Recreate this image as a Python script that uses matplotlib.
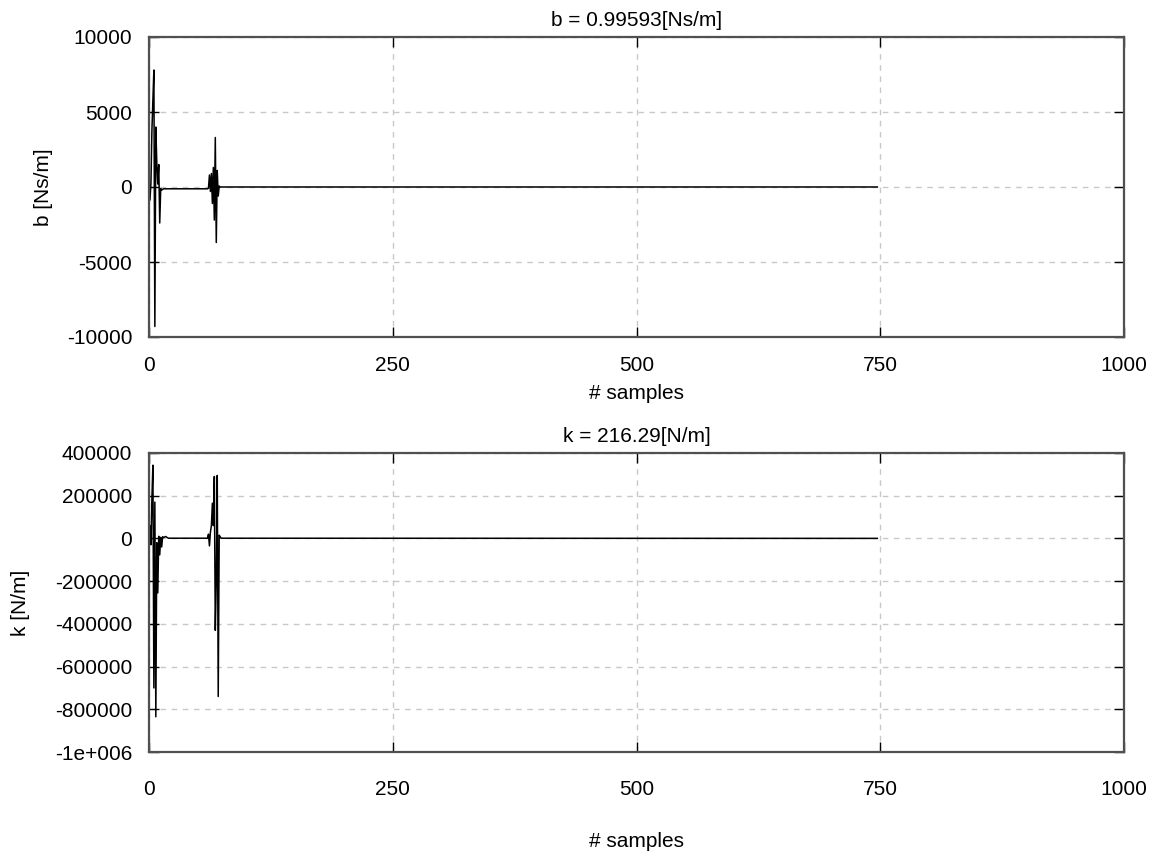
import matplotlib
matplotlib.use("Agg")
import matplotlib.pyplot as plt

plt.rcParams["font.family"] = ["Liberation Sans", "DejaVu Sans"]

# damping estimate b (breakpoints: sample index -> value)
b_samples = [0, 1, 2, 3, 4, 5, 6, 7, 8, 9, 10, 11, 12, 13, 15,
             60, 61, 62, 63, 64, 65, 66, 67, 68, 69, 70, 71, 72, 73, 747]
b_values = [0, -870, 300, 3800, 5800, 7800, -9300, 4000, 1600, 200, 1500, -2400, -100, -200, -120,
            -120, -80, 800, -300, 900, -1100, 1300, -2200, 3300, -3700, 1100, -600, 60, 0, 0.99593]

# stiffness estimate k
k_samples = [0, 1, 2, 3, 4, 5, 6, 7, 8, 9, 10, 11, 12, 13, 14, 15, 17, 18, 20,
             60, 61, 62, 63, 64, 65, 66, 67, 68, 69, 70, 71, 72, 73, 74, 747]
k_values = [0, 60000, -30000, 190000, 343000, -700000, 170000, -835000, -20000, -255000, 10000,
            -77000, 5000, -40000, 8000, 4000, 9000, 6000, 1000,
            1000, 20000, -35000, 30000, 60000, 165000, 60000, 290000, -430000, -200000, 295000,
            -740000, 15000, 8000, 1000, 216.29]

x_ticks = [0, 250, 500, 750, 1000]
b_ticks = [-10000, -5000, 0, 5000, 10000]
k_ticks = [-1000000, -800000, -600000, -400000, -200000, 0, 200000, 400000]
k_tick_labels = ["-1e+006", "-800000", "-600000", "-400000", "-200000", "0", "200000", "400000"]

W, H = 1155, 856
fig = plt.figure(figsize=(W / 100, H / 100), dpi=100)
left, right = 149 / W, 1124 / W
ax1 = fig.add_axes([left, 1 - 337 / H, right - left, 300 / H])
ax2 = fig.add_axes([left, 1 - 752 / H, right - left, 299 / H])

fs = 15


def style(ax, xpad):
    ax.set_xlim(0, 1000)
    ax.set_xticks(x_ticks)
    ax.grid(True, linestyle=(0, (4, 4)), color="#c8c8c8", linewidth=1)
    ax.set_axisbelow(True)
    ax.tick_params(direction="in", length=7, width=1, top=True, right=True,
                   labelsize=fs, colors="black")
    ax.tick_params(axis="x", pad=xpad)
    ax.tick_params(axis="y", pad=12)
    for s in ax.spines.values():
        s.set_color("#505050")
        s.set_linewidth(1.6)


ax1.plot(b_samples, b_values, color="black", linewidth=1.1)
style(ax1, 14)
ax1.set_ylim(-10000, 10000)
ax1.set_yticks(b_ticks)
ax1.set_yticklabels([str(v) for v in b_ticks])
ax1.set_title("b = 0.99593[Ns/m]", fontsize=fs, pad=8)
ax1.set_xlabel("# samples", fontsize=fs, labelpad=6)
ax1.set_ylabel("b [Ns/m]", fontsize=fs, labelpad=10)

ax2.plot(k_samples, k_values, color="black", linewidth=1.1)
style(ax2, 20)
ax2.set_ylim(-1000000, 400000)
ax2.set_yticks(k_ticks)
ax2.set_yticklabels(k_tick_labels)
ax2.set_title("k = 216.29[N/m]", fontsize=fs, pad=8)
ax2.set_xlabel("# samples", fontsize=fs, labelpad=24)
ax2.set_ylabel("k [N/m]", fontsize=fs, labelpad=18)

fig.savefig("out.png", dpi=100, facecolor="white")
